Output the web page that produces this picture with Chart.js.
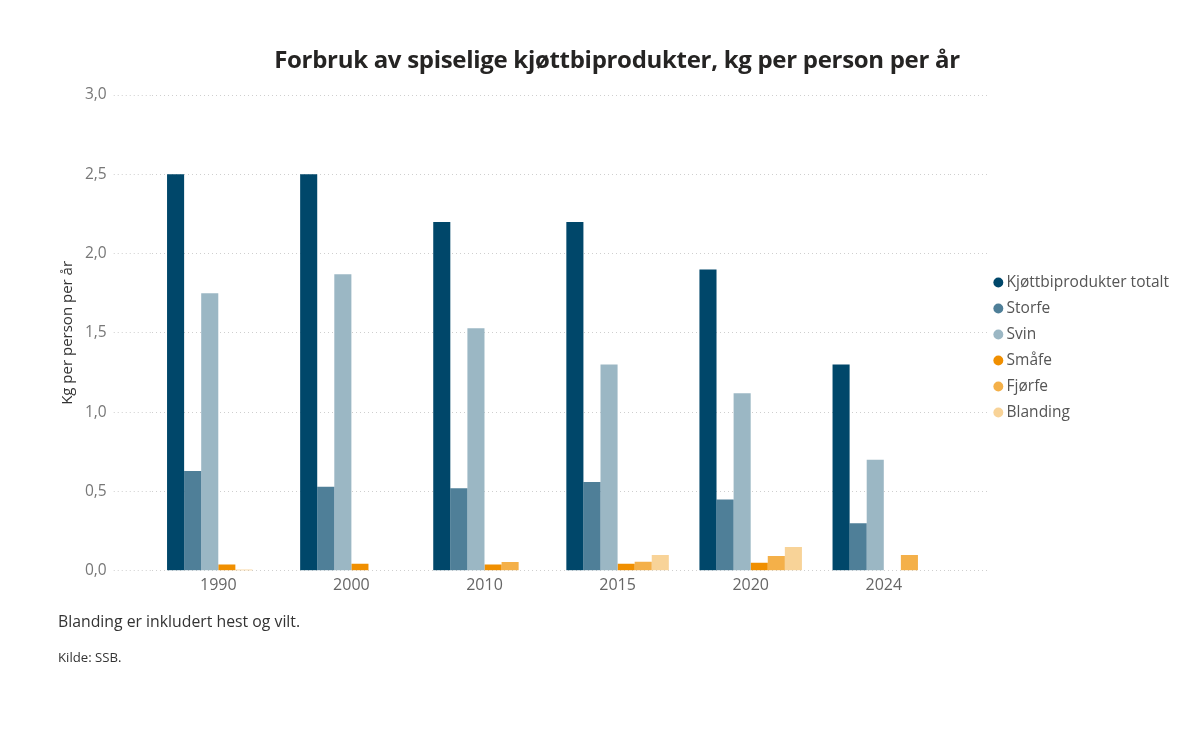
<!DOCTYPE html>
<html>
<head>
<meta charset="utf-8">
<script src="https://cdn.jsdelivr.net/npm/chart.js@4.4.1/dist/chart.umd.min.js"></script>
<style>
  html, body { margin: 0; padding: 0; background: #fff; }
  #wrap { position: relative; width: 1191px; height: 730px; font-family: "Open Sans", "Noto Sans", sans-serif; }
  #title { position: absolute; left: 0; width: 1234px; top: 42px; text-align: center; font-weight: 700; font-size: 24px; color: #252423; letter-spacing: -0.3px; }
  #note { position: absolute; left: 58px; top: 610px; font-size: 15.8px; color: #333; }
  #source { position: absolute; left: 58px; top: 648px; font-size: 13.2px; color: #333; }
  canvas { position: absolute; left: 0; top: 0; }
</style>
</head>
<body>
<div id="wrap">
  <canvas id="c" width="1191" height="730"></canvas>
  <div id="title">Forbruk av spiselige kjøttbiprodukter, kg per person per år</div>
  <div id="note">Blanding er inkludert hest og vilt.</div>
  <div id="source">Kilde: SSB.</div>
</div>
<script>
const years = ['1990', '2000', '2010', '2015', '2020', '2024'];
const totalt   = [2.50, 2.50, 2.20, 2.20, 1.90, 1.30];
const storfe   = [0.63, 0.53, 0.52, 0.56, 0.45, 0.30];
const svin     = [1.75, 1.87, 1.53, 1.30, 1.12, 0.70];
const smaafe   = [0.04, 0.045, 0.04, 0.045, 0.05, null];
const fjorfe   = [0.007, null, 0.055, 0.057, 0.093, 0.10];
const blanding = [null, null, null, 0.10, 0.15, null];
const yTicks = [0, 0.5, 1.0, 1.5, 2.0, 2.5, 3.0];

const seriesNames = ['Kjøttbiprodukter totalt', 'Storfe', 'Svin', 'Småfe', 'Fjørfe', 'Blanding'];
const seriesData = [totalt, storfe, svin, smaafe, fjorfe, blanding];
const seriesColors = ['#00476a', '#4f7f98', '#9bb7c4', '#f08f00', '#f4b049', '#f8d398'];

const datasets = seriesNames.map((name, i) => ({
  label: name,
  data: seriesData[i],
  backgroundColor: seriesColors[i],
  borderWidth: 0,
  categoryPercentage: 0.77,
  barPercentage: 1.0
}));

const font = "'Open Sans', 'Noto Sans', sans-serif";
const gridCol = '#cfcfcf';

new Chart(document.getElementById('c'), {
  type: 'bar',
  data: { labels: years, datasets },
  options: {
    responsive: false,
    animation: false,
    layout: { padding: { top: 95, bottom: 130, left: 59, right: 18 } },
    plugins: {
      legend: {
        position: 'right',
        align: 'center',
        labels: {
          usePointStyle: true,
          pointStyle: 'circle',
          boxWidth: 1,
          boxHeight: 7,
          padding: 10.5,
          color: '#555',
          font: { family: font, size: 15.5 }
        }
      },
      title: { display: false },
      tooltip: { enabled: false }
    },
    scales: {
      x: {
        grid: { display: false, drawTicks: false },
        border: { display: false },
        ticks: { color: '#666', font: { family: font, size: 16 }, padding: 5 }
      },
      y: {
        min: 0, max: 3,
        afterBuildTicks: (s) => { s.ticks = yTicks.map(v => ({ value: v })); },
        border: { display: false, dash: [1, 3] },
        grid: { color: gridCol, tickBorderDash: [1, 3], tickColor: gridCol, tickLength: 38, lineWidth: 1 },
        ticks: {
          color: '#777',
          padding: 7,
          font: { family: font, size: 15.5 },
          callback: (v) => Number(v).toFixed(1).replace('.', ',')
        },
        title: { display: true, text: 'Kg per person per år', color: '#333', font: { family: font, size: 15 }, padding: { top: 0, bottom: 1 } }
      },
      y2: {
        position: 'right',
        min: 0, max: 3,
        afterBuildTicks: (s) => { s.ticks = yTicks.map(v => ({ value: v })); },
        border: { display: false },
        grid: { drawOnChartArea: false, drawTicks: true, tickLength: 37, tickColor: gridCol, tickBorderDash: [1, 3], color: gridCol },
        ticks: { display: false }
      }
    }
  }
});
</script>
</body>
</html>
